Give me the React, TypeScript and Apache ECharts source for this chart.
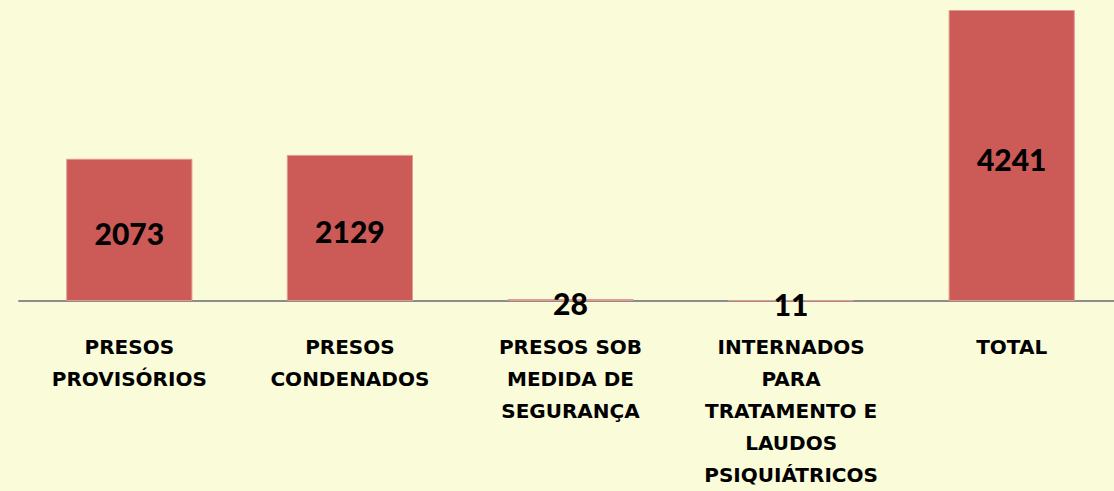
import React, { useEffect, useRef } from "react";
import * as echarts from "echarts";

const categories = [
  "PRESOS\nPROVISÓRIOS",
  "PRESOS\nCONDENADOS",
  "PRESOS SOB\nMEDIDA DE\nSEGURANÇA",
  "INTERNADOS\nPARA\nTRATAMENTO E\nLAUDOS\nPSIQUIÁTRICOS",
  "TOTAL",
];
const values = [2073, 2129, 28, 11, 4241];

export default function App() {
  const ref = useRef<HTMLDivElement>(null);
  useEffect(() => {
    document.body.style.margin = "0";
    document.body.style.background = "#FAFBD9";
    if (!ref.current) return;
    const chart = echarts.init(ref.current, null, { renderer: "svg" });
    chart.setOption({
      animation: false,
      backgroundColor: "#FAFBD9",
      grid: {
        left: 19,
        top: 10,
        width: 1103,
        height: 291,
        containLabel: false,
        outerBoundsMode: "none",
      },
      xAxis: {
        type: "category",
        data: categories,
        axisLine: { show: true, lineStyle: { color: "#8C8C8C", width: 2 } },
        axisTick: { show: false },
        axisLabel: {
          interval: 0,
          margin: 30,
          color: "#000",
          fontFamily: "DejaVu Sans",
          fontWeight: "bold",
          fontSize: 20,
          lineHeight: 32,
          align: "center",
          verticalAlign: "top",
        },
      },
      yAxis: {
        type: "value",
        min: 0,
        max: 4241,
        show: false,
        splitLine: { show: false },
      },
      series: [
        {
          type: "bar",
          data: values,
          barWidth: "57.2%",
          itemStyle: { color: "#CC5B57", borderColor: "#E39A92", borderWidth: 1 },
          label: {
            show: true,
            position: "inside",
            offset: [0, 3],
            color: "#000",
            fontFamily: "Lato",
            fontWeight: 900,
            fontSize: 30,
          },
        },
      ],
    });
    return () => chart.dispose();
  }, []);
  return <div ref={ref} style={{ width: 1114, height: 491 }} />;
}
